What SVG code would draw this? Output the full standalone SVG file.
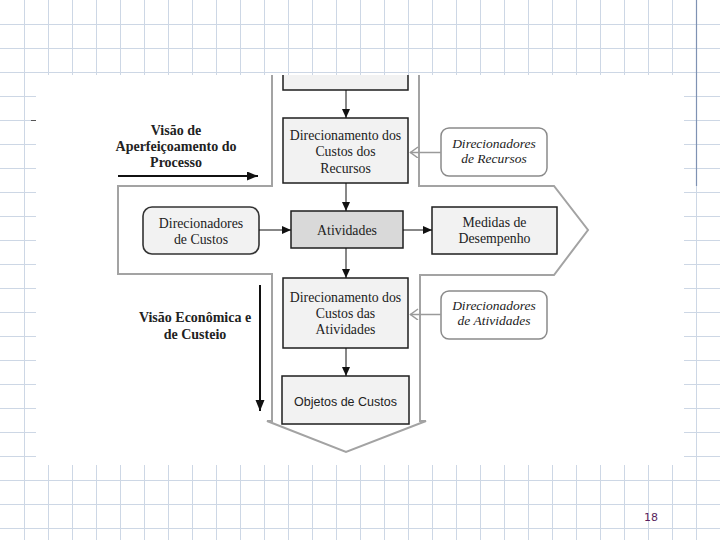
<svg xmlns="http://www.w3.org/2000/svg" width="720" height="540" viewBox="0 0 720 540">
<style>
.grid{stroke:#cdd7e5;stroke-width:1;fill:none}
.box{fill:#f2f2f2;stroke:#1e1e1e;stroke-width:1.5}
.act{fill:#d9d9d9;stroke:#1e1e1e;stroke-width:1.5}
.rbox{fill:#f2f2f2;stroke:#333;stroke-width:1.6}
.ibox{fill:#fff;stroke:#8a8a8a;stroke-width:1.5}
.band{fill:none;stroke:#a3a3a3;stroke-width:2;stroke-linejoin:miter}
.t{font-family:"Liberation Serif",serif;font-size:13.8px;fill:#222;text-anchor:middle}
.tb{font-family:"Liberation Serif",serif;font-size:14px;font-weight:bold;fill:#222;text-anchor:middle}
.ti{font-family:"Liberation Serif",serif;font-size:13.5px;font-style:italic;fill:#222;text-anchor:middle}
.ts{font-family:"Liberation Sans",sans-serif;font-size:12.5px;fill:#222;text-anchor:middle}
.c{stroke:#111;stroke-width:1;fill:none}
.cb{stroke:#111;stroke-width:2;fill:none}
.cg{stroke:#9a9a9a;stroke-width:1.5;fill:none}
</style>
<defs>
<marker id="ah" markerUnits="userSpaceOnUse" markerWidth="9" markerHeight="9" refX="9" refY="4" orient="auto"><path d="M0,0 L9,4 L0,8 z" fill="#111"/></marker>
<marker id="ahb" markerUnits="userSpaceOnUse" markerWidth="11" markerHeight="10" refX="11" refY="4.5" orient="auto"><path d="M0,0 L11,4.5 L0,9 z" fill="#111"/></marker>
<marker id="ahg" markerUnits="userSpaceOnUse" markerWidth="10" markerHeight="12" refX="9" refY="5.5" orient="auto"><path d="M1,0 L8.5,5.5 L1,11" fill="none" stroke="#9a9a9a" stroke-width="1.5"/></marker>
</defs>
<rect width="720" height="540" fill="#fff"/>
<g id="background">
<path class="grid" d="M24.5,0V540M48.5,0V540M72.5,0V540M96.5,0V540M120.5,0V540M144.5,0V540M168.5,0V540M192.5,0V540M216.5,0V540M240.5,0V540M264.5,0V540M288.5,0V540M312.5,0V540M336.5,0V540M360.5,0V540M384.5,0V540M408.5,0V540M432.5,0V540M456.5,0V540M480.5,0V540M504.5,0V540M528.5,0V540M552.5,0V540M576.5,0V540M600.5,0V540M624.5,0V540M648.5,0V540M672.5,0V540M696.5,0V540"/>
<path class="grid" d="M0,24.5H720M0,48.5H720M0,72.5H720M0,96.5H720M0,120.5H720M0,144.5H720M0,168.5H720M0,192.5H720M0,216.5H720M0,240.5H720M0,264.5H720M0,288.5H720M0,312.5H720M0,336.5H720M0,360.5H720M0,384.5H720M0,408.5H720M0,432.5H720M0,456.5H720M0,480.5H720M0,504.5H720M0,528.5H720"/>
<line x1="696.5" y1="0" x2="696.5" y2="186" stroke="#7f92b3" stroke-width="1.2"/>
<rect x="36" y="75" width="648" height="390" fill="#fff"/>
<line x1="31" y1="120.5" x2="36" y2="120.5" stroke="#555" stroke-width="1"/>
<text x="651" y="521" font-family="DejaVu Sans, sans-serif" font-size="11px" fill="#5a1f5e" text-anchor="middle">18</text>
</g>
<g id="band">
<path class="band" d="M272,75 V186 H118 V274 H272 V421 H267 L346,452 L426,421 H420 V275 H554 L588,230 L554,186 H419 V75"/>
</g>
<g id="label-aperfeicoamento">
<text class="tb" x="176" y="135">Visão de</text>
<text class="tb" x="176" y="151">Aperfeiçoamento do</text>
<text class="tb" x="176" y="167">Processo</text>
</g>
<g id="label-economica">
<text class="tb" x="195" y="322">Visão Econômica e</text>
<text class="tb" x="195" y="339">de Custeio</text>
</g>
<g id="node-top">
<rect x="283" y="75" width="125" height="15" fill="#f2f2f2"/>
<path d="M283,75 V90 H408 V75" fill="none" stroke="#1e1e1e" stroke-width="1.5"/>
</g>
<g id="node-dir-custos-recursos">
<rect class="box" x="283" y="118" width="125" height="65"/>
<text class="t" x="345.5" y="139.5">Direcionamento dos</text>
<text class="t" x="345.5" y="156">Custos dos</text>
<text class="t" x="345.5" y="172.5">Recursos</text>
</g>
<g id="node-direcionadores-recursos">
<rect class="ibox" x="441" y="128" width="106" height="48" rx="8"/>
<text class="ti" x="494" y="147.5">Direcionadores</text>
<text class="ti" x="494" y="162.5">de Recursos</text>
</g>
<g id="node-direcionadores-custos">
<rect class="rbox" x="143" y="207" width="116" height="47" rx="9"/>
<text class="t" x="201" y="227.5">Direcionadores</text>
<text class="t" x="201" y="244">de Custos</text>
</g>
<g id="node-atividades">
<rect class="act" x="291" y="211" width="112" height="37"/>
<text class="t" x="347" y="235">Atividades</text>
</g>
<g id="node-medidas">
<rect class="box" x="432" y="207" width="125" height="47"/>
<text class="t" x="494.5" y="226.5">Medidas de</text>
<text class="t" x="494.5" y="243">Desempenho</text>
</g>
<g id="node-dir-custos-atividades">
<rect class="box" x="283" y="278" width="125" height="70"/>
<text class="t" x="345.5" y="301.5">Direcionamento dos</text>
<text class="t" x="345.5" y="317.5">Custos das</text>
<text class="t" x="345.5" y="333.5">Atividades</text>
</g>
<g id="node-direcionadores-atividades">
<rect class="ibox" x="441" y="291" width="106" height="48" rx="8"/>
<text class="ti" x="494" y="310">Direcionadores</text>
<text class="ti" x="494" y="325">de Atividades</text>
</g>
<g id="node-objetos">
<rect class="box" x="282" y="376" width="127" height="48"/>
<text class="ts" x="345.5" y="406">Objetos de Custos</text>
</g>
<g id="connectors">
<line class="c" x1="346" y1="90" x2="346" y2="118" marker-end="url(#ah)"/>
<line class="c" x1="346" y1="183" x2="346" y2="211" marker-end="url(#ah)"/>
<line class="c" x1="346" y1="248" x2="346" y2="278" marker-end="url(#ah)"/>
<line class="c" x1="346" y1="348" x2="346" y2="376" marker-end="url(#ah)"/>
<line class="c" x1="259" y1="230" x2="291" y2="230" marker-end="url(#ah)"/>
<line class="c" x1="403" y1="230" x2="432" y2="230" marker-end="url(#ah)"/>
<line class="cg" x1="441" y1="152.5" x2="410" y2="152.5" marker-end="url(#ahg)"/>
<line class="cg" x1="441" y1="314.5" x2="410" y2="314.5" marker-end="url(#ahg)"/>
<line class="cb" x1="118" y1="176" x2="258" y2="176" marker-end="url(#ahb)"/>
<line class="cb" x1="260" y1="285" x2="260" y2="411" marker-end="url(#ahb)"/>
</g>
</svg>
